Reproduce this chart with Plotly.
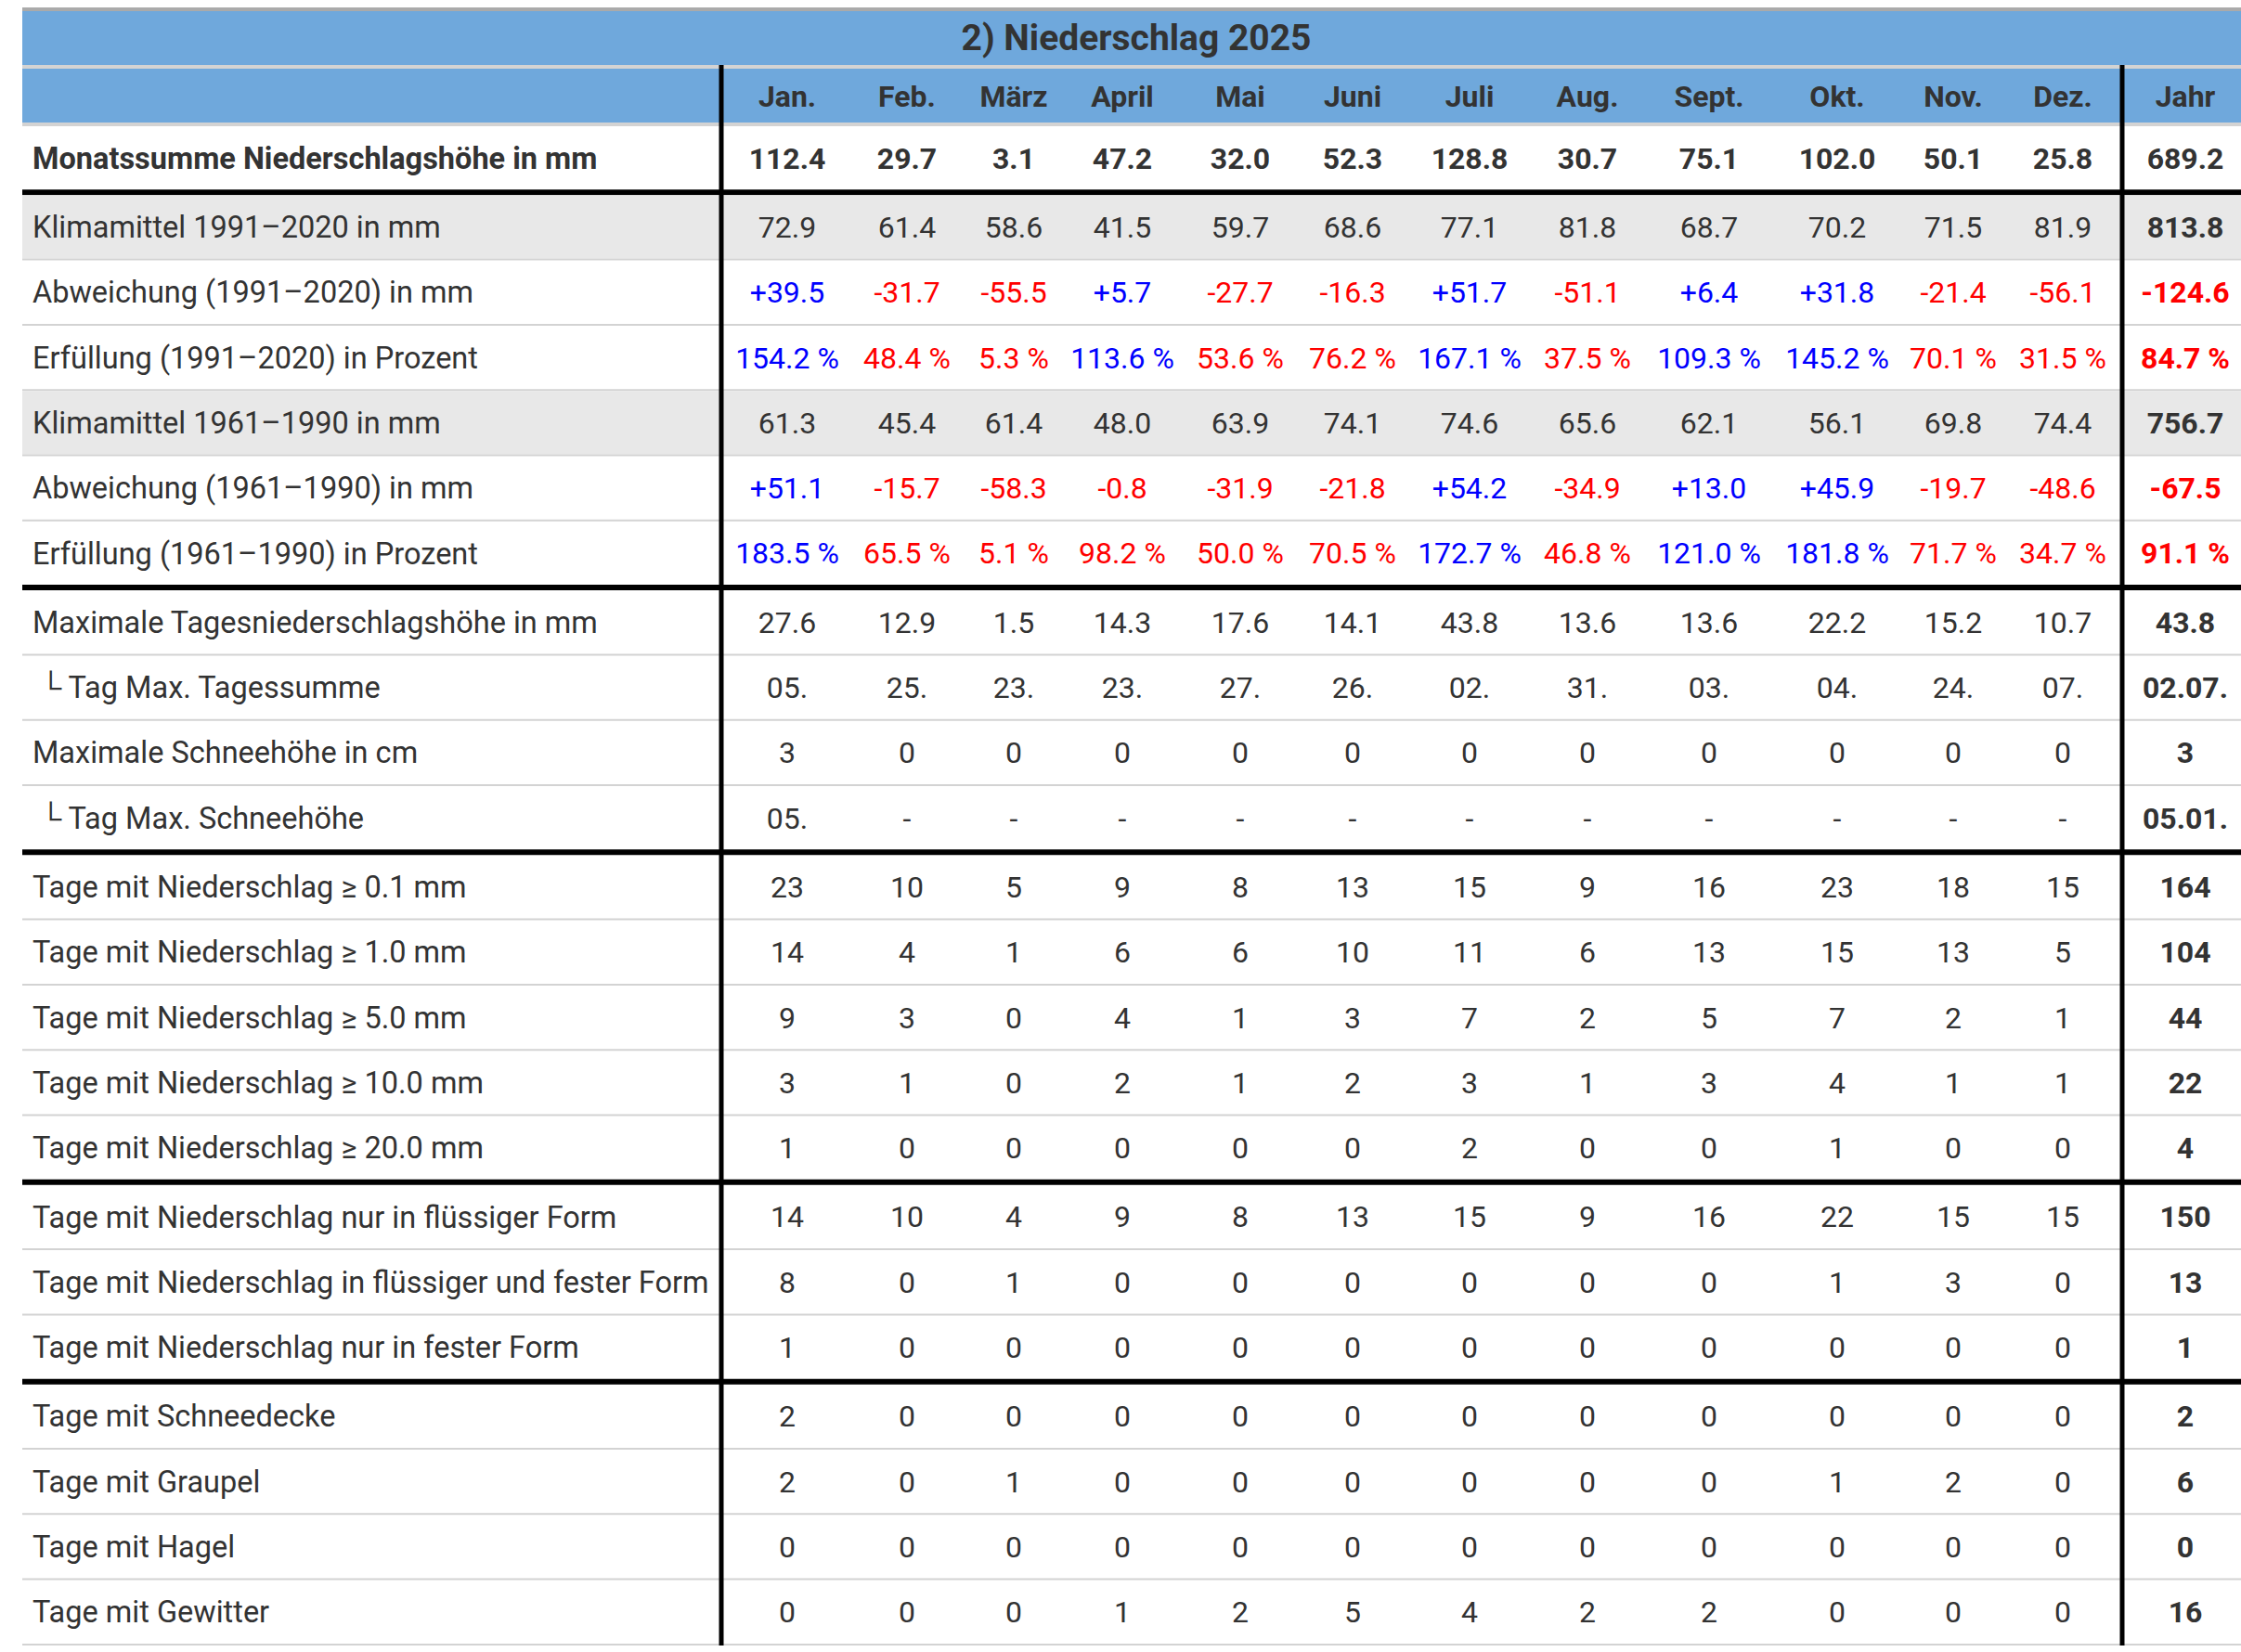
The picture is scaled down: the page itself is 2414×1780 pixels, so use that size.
import plotly.graph_objects as go

# --- Daten --------------------------------------------------------------
title = "2) Niederschlag 2025"
months = ["Jan.", "Feb.", "März", "April", "Mai", "Juni", "Juli",
          "Aug.", "Sept.", "Okt.", "Nov.", "Dez."]
year_label = "Jahr"

# je Zeile: 12 Monatswerte + Jahreswert
monatssumme = [112.4, 29.7, 3.1, 47.2, 32.0, 52.3, 128.8, 30.7, 75.1, 102.0, 50.1, 25.8, 689.2]
klima_9120 = [72.9, 61.4, 58.6, 41.5, 59.7, 68.6, 77.1, 81.8, 68.7, 70.2, 71.5, 81.9, 813.8]
abw_9120 = [39.5, -31.7, -55.5, 5.7, -27.7, -16.3, 51.7, -51.1, 6.4, 31.8, -21.4, -56.1, -124.6]
erf_9120 = [154.2, 48.4, 5.3, 113.6, 53.6, 76.2, 167.1, 37.5, 109.3, 145.2, 70.1, 31.5, 84.7]
klima_6190 = [61.3, 45.4, 61.4, 48.0, 63.9, 74.1, 74.6, 65.6, 62.1, 56.1, 69.8, 74.4, 756.7]
abw_6190 = [51.1, -15.7, -58.3, -0.8, -31.9, -21.8, 54.2, -34.9, 13.0, 45.9, -19.7, -48.6, -67.5]
erf_6190 = [183.5, 65.5, 5.1, 98.2, 50.0, 70.5, 172.7, 46.8, 121.0, 181.8, 71.7, 34.7, 91.1]
max_tag = [27.6, 12.9, 1.5, 14.3, 17.6, 14.1, 43.8, 13.6, 13.6, 22.2, 15.2, 10.7, 43.8]
tag_max_tag = ["05.", "25.", "23.", "23.", "27.", "26.", "02.", "31.", "03.", "04.", "24.", "07.", "02.07."]
max_schnee = [3, 0, 0, 0, 0, 0, 0, 0, 0, 0, 0, 0, 3]
tag_max_schnee = ["05.", "-", "-", "-", "-", "-", "-", "-", "-", "-", "-", "-", "05.01."]
tage_01 = [23, 10, 5, 9, 8, 13, 15, 9, 16, 23, 18, 15, 164]
tage_10 = [14, 4, 1, 6, 6, 10, 11, 6, 13, 15, 13, 5, 104]
tage_50 = [9, 3, 0, 4, 1, 3, 7, 2, 5, 7, 2, 1, 44]
tage_100 = [3, 1, 0, 2, 1, 2, 3, 1, 3, 4, 1, 1, 22]
tage_200 = [1, 0, 0, 0, 0, 0, 2, 0, 0, 1, 0, 0, 4]
tage_fluessig = [14, 10, 4, 9, 8, 13, 15, 9, 16, 22, 15, 15, 150]
tage_gemischt = [8, 0, 1, 0, 0, 0, 0, 0, 0, 1, 3, 0, 13]
tage_fest = [1, 0, 0, 0, 0, 0, 0, 0, 0, 0, 0, 0, 1]
tage_schneedecke = [2, 0, 0, 0, 0, 0, 0, 0, 0, 0, 0, 0, 2]
tage_graupel = [2, 0, 1, 0, 0, 0, 0, 0, 0, 1, 2, 0, 6]
tage_hagel = [0, 0, 0, 0, 0, 0, 0, 0, 0, 0, 0, 0, 0]
tage_gewitter = [0, 0, 0, 1, 2, 5, 4, 2, 2, 0, 0, 0, 16]

# (Beschriftung, Werte, Format, graue Zeile, dicke Linie darunter)
rows = [
    ("Monatssumme Niederschlagshöhe in mm", monatssumme, "f1", False, True),
    ("Klimamittel 1991–2020 in mm", klima_9120, "f1", True, False),
    ("Abweichung (1991–2020) in mm", abw_9120, "pm", False, False),
    ("Erfüllung (1991–2020) in Prozent", erf_9120, "pct", False, False),
    ("Klimamittel 1961–1990 in mm", klima_6190, "f1", True, False),
    ("Abweichung (1961–1990) in mm", abw_6190, "pm", False, False),
    ("Erfüllung (1961–1990) in Prozent", erf_6190, "pct", False, True),
    ("Maximale Tagesniederschlagshöhe in mm", max_tag, "f1", False, False),
    ("\u00a0└ Tag Max. Tagessumme", tag_max_tag, "str", False, False),
    ("Maximale Schneehöhe in cm", max_schnee, "int", False, False),
    ("\u00a0└ Tag Max. Schneehöhe", tag_max_schnee, "str", False, True),
    ("Tage mit Niederschlag ≥ 0.1 mm", tage_01, "int", False, False),
    ("Tage mit Niederschlag ≥ 1.0 mm", tage_10, "int", False, False),
    ("Tage mit Niederschlag ≥ 5.0 mm", tage_50, "int", False, False),
    ("Tage mit Niederschlag ≥ 10.0 mm", tage_100, "int", False, False),
    ("Tage mit Niederschlag ≥ 20.0 mm", tage_200, "int", False, True),
    ("Tage mit Niederschlag nur in flüssiger Form", tage_fluessig, "int", False, False),
    ("Tage mit Niederschlag in flüssiger und fester Form", tage_gemischt, "int", False, False),
    ("Tage mit Niederschlag nur in fester Form", tage_fest, "int", False, True),
    ("Tage mit Schneedecke", tage_schneedecke, "int", False, False),
    ("Tage mit Graupel", tage_graupel, "int", False, False),
    ("Tage mit Hagel", tage_hagel, "int", False, False),
    ("Tage mit Gewitter", tage_gewitter, "int", False, False),
]

# --- Layout der Tabelle (Pixel) ----------------------------------------
W, H = 2414, 1780
X0, X1 = 24, 2430
LABEL_X = 35
VLINE1, VLINE2 = 777, 2286
col_x = [848, 977, 1092, 1209, 1336, 1457, 1583, 1710, 1841, 1979, 2104, 2222]
year_x = 2354
ROW_H = 68.3
DY = 3.5  # Text etwas tiefer setzen
TEXT = "#333333"
BLUE_BG = "#6fa8dc"
GRID = "#d3d3d3"
FONT = "Roboto"
FS = 32


def fmt(v, kind):
    if kind == "f1":
        return f"{v:.1f}"
    if kind == "pm":
        return f"{v:+.1f}"
    if kind == "pct":
        return f"{v:.1f} %"
    return str(v)


def colour(v, kind):
    if kind == "pm":
        return "#0000ff" if v > 0 else "#ff0000"
    if kind == "pct":
        return "#0000ff" if v >= 100 else "#ff0000"
    return TEXT


shapes = []


def rect(x0, x1, y0, y1, color):
    shapes.append(dict(type="rect", xref="x", yref="y", x0=x0, x1=x1, y0=y0, y1=y1,
                       fillcolor=color, line=dict(width=0), layer="below"))


# Kopf
rect(X0, X1, 8, 12, "#aaaaaa")
rect(X0, X1, 12, 70, BLUE_BG)
rect(X0, X1, 70, 74, GRID)
rect(X0, X1, 74, 132, BLUE_BG)
rect(X0, X1, 132, 136, GRID)

row_y = []
y = 136
for label, vals, kind, grey, thick in rows:
    if grey:
        rect(X0, X1, y, y + ROW_H, "#e8e8e8")
    row_y.append(y + ROW_H / 2 + DY)
    y += ROW_H
    sep = 6 if thick else 2
    rect(X0, X1, y, y + sep, "#000000" if thick else GRID)
    y += sep
bottom = y

for vx in (VLINE1, VLINE2):
    shapes.append(dict(type="rect", xref="x", yref="y", x0=vx - 2.5, x1=vx + 2.5,
                       y0=70, y1=bottom, fillcolor="#000000", line=dict(width=0), layer="below"))

fig = go.Figure()

# Titel
fig.add_trace(go.Scatter(x=[(X0 + 2424) / 2], y=[41 + DY], mode="text", text=[f"<b>{title}</b>"],
                         textfont=dict(family=FONT, size=39, color=TEXT)))
# Monatsköpfe
fig.add_trace(go.Scatter(x=col_x + [year_x], y=[103 + DY] * 13, mode="text",
                         text=[f"<b>{m}</b>" for m in months + [year_label]],
                         textfont=dict(family=FONT, size=FS, color=TEXT)))

# Zeilenbeschriftungen
fig.add_trace(go.Scatter(
    x=[LABEL_X] * len(rows), y=row_y, mode="text", textposition="middle right",
    text=[f"<b>{r[0]}</b>" if i == 0 else r[0] for i, r in enumerate(rows)],
    textfont=dict(family=FONT, size=32.5, color=TEXT)))

# Werte
xs, ys, txt, cols = [], [], [], []
for i, (label, vals, kind, grey, thick) in enumerate(rows):
    for j, v in enumerate(vals):
        s = fmt(v, kind)
        if i == 0 or j == 12:
            s = f"<b>{s}</b>"
        xs.append(col_x[j] if j < 12 else year_x)
        ys.append(row_y[i])
        txt.append(s)
        cols.append(colour(v, kind))
fig.add_trace(go.Scatter(x=xs, y=ys, mode="text", text=txt,
                         textfont=dict(family=FONT, size=FS, color=cols)))

fig.update_layout(
    width=W, height=H, margin=dict(l=0, r=0, t=0, b=0),
    paper_bgcolor="white", plot_bgcolor="white", showlegend=False,
    shapes=shapes,
    xaxis=dict(range=[0, W], visible=False, fixedrange=True),
    yaxis=dict(range=[H, 0], visible=False, fixedrange=True),
    hovermode=False,
)
fig.update_traces(hoverinfo="skip", cliponaxis=False)

fig.write_html("out.html", config={"displayModeBar": False},
               post_script="document.body.style.margin='0';")
